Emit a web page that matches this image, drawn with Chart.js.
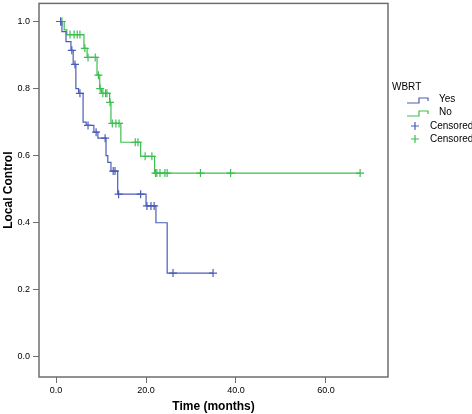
<!DOCTYPE html>
<html>
<head>
<meta charset="utf-8">
<script src="https://cdn.jsdelivr.net/npm/chart.js@4"></script>
<style>
  body { margin: 0; background: #fff; overflow: hidden; }
  /* chart.js keeps ~5px free above the plot for the point marks, pull the canvas up a bit */
  canvas { display: block; margin-top: -5px; }
</style>
</head>
<body>
<canvas id="km" width="472" height="419"></canvas>
<script>
// Kaplan-Meier steps (time in months -> local control)
const yesTimes = [0, 1.3, 2.2, 3.3, 3.8, 4.4, 5.0, 6.0, 6.7, 8.4, 9.3, 11.1, 11.5, 12.2, 13.7, 20.0, 22.2, 24.7, 34.9];
const yesSurv = [1.0, 0.97, 0.94, 0.914, 0.872, 0.80, 0.786, 0.70, 0.69, 0.67, 0.652, 0.60, 0.58, 0.554, 0.485, 0.45, 0.40, 0.25, 0.25];
const yesCensored = [1.0, 3.5, 4.2, 5.3, 7.1, 8.9, 10.9, 12.7, 13.1, 13.9, 18.8, 20.2, 21.1, 21.8, 26.0, 34.9];

const noTimes = [0, 1.8, 2.4, 6.2, 6.9, 9.1, 9.7, 10.1, 11.9, 12.2, 14.4, 18.8, 21.9, 67.6];
const noSurv = [1.0, 0.975, 0.961, 0.92, 0.893, 0.84, 0.80, 0.786, 0.759, 0.696, 0.64, 0.598, 0.548, 0.548];
const noCensored = [1.0, 1.3, 3.1, 4.0, 4.7, 5.3, 6.4, 7.1, 8.7, 9.4, 9.8, 10.4, 11.0, 11.3, 12.0, 12.5, 13.3, 14.0,
  17.6, 18.2, 19.8, 21.3, 22.1, 22.4, 23.1, 24.2, 24.7, 32.1, 38.8, 67.6];

const xTicks = [0, 20, 40, 60];
const yTicks = [0, 0.2, 0.4, 0.6, 0.8, 1.0];

const blue = '#4a5cb8';
const green = '#3cbf50';
const frameColor = '#6e6e6e';
const font = '"Liberation Sans", Arial, sans-serif';

// value of the step curve at time t
function survAt(times, surv, t) {
  let s = surv[0];
  for (let i = 0; i < times.length; i++) {
    if (times[i] <= t) s = surv[i];
  }
  return s;
}

const steps = (times, surv) => times.map((t, i) => ({ x: t, y: surv[i] }));
const marks = (cens, times, surv) => cens.map(t => ({ x: t, y: survAt(times, surv, t) }));

// frame round the plot area + legend
const framePlugin = {
  id: 'frame',
  afterDraw(chart) {
    const { ctx, chartArea: a } = chart;
    ctx.save();
    ctx.strokeStyle = frameColor;
    ctx.lineWidth = 1.5;
    ctx.strokeRect(a.left, a.top, a.right - a.left, a.bottom - a.top);

    const lx = a.right + 4;
    const top = 92; // canvas is shifted 5px up
    ctx.font = '10px ' + font;
    ctx.fillStyle = '#000';
    ctx.textBaseline = 'middle';
    ctx.fillText('WBRT', lx, top);

    function stepIcon(color, y) {
      ctx.strokeStyle = color;
      ctx.lineWidth = 1.2;
      ctx.beginPath();
      ctx.moveTo(lx + 15, y + 3);
      ctx.lineTo(lx + 27, y + 3);
      ctx.lineTo(lx + 27, y - 2);
      ctx.lineTo(lx + 36, y - 2);
      ctx.lineTo(lx + 36, y + 1);
      ctx.stroke();
    }
    function cross(color, y) {
      ctx.strokeStyle = color;
      ctx.lineWidth = 1.2;
      ctx.beginPath();
      ctx.moveTo(lx + 23, y - 4);
      ctx.lineTo(lx + 23, y + 4);
      ctx.moveTo(lx + 19, y);
      ctx.lineTo(lx + 27, y);
      ctx.stroke();
    }
    stepIcon(blue, top + 13);
    ctx.fillText('Yes', lx + 47, top + 12);
    stepIcon(green, top + 26);
    ctx.fillText('No', lx + 47, top + 25);
    cross(blue, top + 39);
    ctx.fillText('Censored', lx + 38, top + 39);
    cross(green, top + 52);
    ctx.fillText('Censored', lx + 38, top + 52);
    ctx.restore();
  }
};

new Chart(document.getElementById('km'), {
  type: 'line',
  data: {
    datasets: [
      {
        label: 'Yes',
        data: steps(yesTimes, yesSurv),
        stepped: true,
        borderColor: blue,
        borderWidth: 1.2,
        pointRadius: 0,
        fill: false
      },
      {
        label: 'No',
        data: steps(noTimes, noSurv),
        stepped: true,
        borderColor: green,
        borderWidth: 1.2,
        pointRadius: 0,
        fill: false
      },
      {
        label: 'Censored',
        data: marks(yesCensored, yesTimes, yesSurv),
        showLine: false,
        pointStyle: 'cross',
        pointRadius: 4,
        borderColor: blue,
        borderWidth: 1.2
      },
      {
        label: 'Censored',
        data: marks(noCensored, noTimes, noSurv),
        showLine: false,
        pointStyle: 'cross',
        pointRadius: 4,
        borderColor: green,
        borderWidth: 1.2
      }
    ]
  },
  options: {
    responsive: false,
    animation: false,
    layout: { autoPadding: false, padding: { top: 0, right: 84, left: 0, bottom: 0 } },
    plugins: {
      legend: { display: false },
      tooltip: { enabled: false }
    },
    scales: {
      x: {
        type: 'linear',
        min: -3.8,
        max: 73.8,
        afterBuildTicks: s => { s.ticks = xTicks.map(v => ({ value: v })); },
        afterFit: s => { s.height = 37; },
        border: { display: false },
        grid: { drawOnChartArea: false, tickLength: 6, color: frameColor, lineWidth: 1 },
        ticks: {
          padding: 2,
          color: '#000',
          font: { family: font, size: 9 },
          callback: v => v.toFixed(1)
        },
        title: {
          display: true,
          text: 'Time (months)',
          color: '#000',
          font: { family: font, size: 12, weight: 'bold' },
          padding: { top: 1, bottom: 0 }
        }
      },
      y: {
        min: -0.06,
        max: 1.054,
        afterBuildTicks: s => { s.ticks = yTicks.map(v => ({ value: v })); },
        afterFit: s => { s.width = 39; },
        border: { display: false },
        grid: { drawOnChartArea: false, tickLength: 6, color: frameColor, lineWidth: 1 },
        ticks: {
          padding: 3,
          color: '#000',
          font: { family: font, size: 9 },
          callback: v => v.toFixed(1)
        },
        title: {
          display: true,
          text: 'Local Control',
          color: '#000',
          font: { family: font, size: 12, weight: 'bold' },
          padding: { top: 1, bottom: 0 }
        }
      }
    }
  },
  plugins: [framePlugin]
});
</script>
</body>
</html>
